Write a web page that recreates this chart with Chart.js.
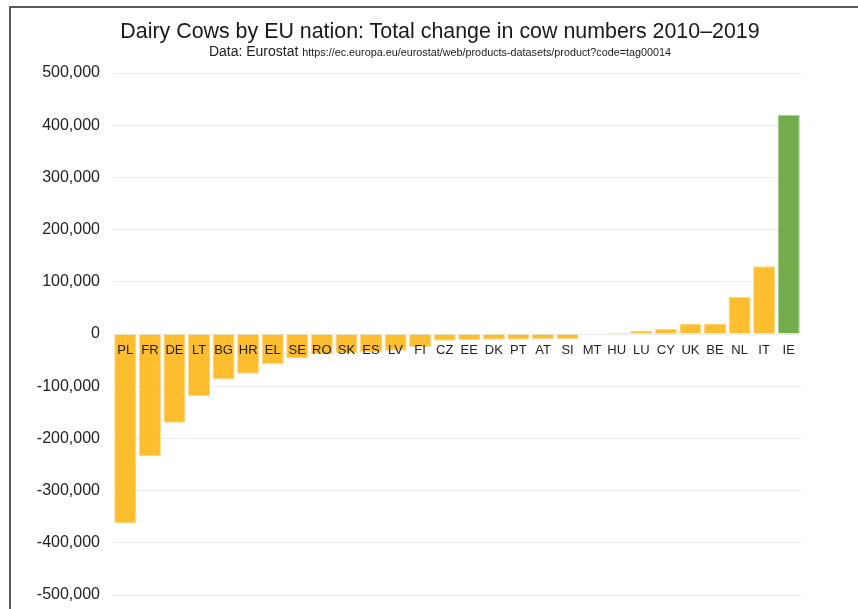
<!DOCTYPE html>
<html lang="en">
<head>
    <meta charset="UTF-8">
    <title>Dairy Cows by EU nation</title>
    <script src="https://cdn.jsdelivr.net/npm/chart.js"></script>
    <style>
        body { margin: 0; background: #fff; font-family: "Liberation Sans", Arial, sans-serif; }
        #wrap { position: relative; width: 858px; height: 609px; overflow: hidden; }
        #frame { position: absolute; left: 9px; top: 6px; right: -10px; bottom: -10px;
                 border-left: 2px solid #5a5a5a; border-top: 2px solid #5a5a5a; pointer-events: none; }
        .title { position: absolute; left: 0; width: 880px; text-align: center; color: #1a1a1a; white-space: nowrap; }
        #t1 { top: 19px; font-size: 21.4px; }
        #t2 { top: 43px; font-size: 14px; }
        #t2 span { font-size: 10.8px; }
    </style>
</head>
<body>
    <div id="wrap">
        <canvas id="chart" width="858" height="609"></canvas>
        <div class="title" id="t1">Dairy Cows by EU nation: Total change in cow numbers 2010–2019</div>
        <div class="title" id="t2">Data: Eurostat <span>https://ec.europa.eu/eurostat/web/products-datasets/product?code=tag00014</span></div>
        <div id="frame"></div>
    </div>
    <script>
        // countries, sorted by change
        const countries = ["PL", "FR", "DE", "LT", "BG", "HR", "EL", "SE", "RO", "SK", "ES", "LV", "FI", "CZ",
            "EE", "DK", "PT", "AT", "SI", "MT", "HU", "LU", "CY", "UK", "BE", "NL", "IT", "IE"];
        // change in dairy cow numbers 2010-2019
        const change = [-363000, -234000, -170000, -119000, -87000, -76000, -58000, -47000, -39000, -37000,
            -35000, -32000, -25000, -13000, -12000, -11000, -11000, -10000, -10000, -1000,
            3000, 6000, 10000, 20000, 20000, 71000, 130000, 420000];
        const yTicks = [-500000, -400000, -300000, -200000, -100000, 0, 100000, 200000, 300000, 400000, 500000];

        const yellow = "#fcbd2e";
        const green = "#72ac4b";
        const colors = countries.map(c => c === "IE" ? green : yellow);
        const edges = countries.map(c => c === "IE" ? "#a4cc88" : "#fdd88a");
        const fontFam = "'Liberation Sans', Arial, sans-serif";

        new Chart(document.getElementById("chart"), {
            type: "bar",
            data: {
                labels: countries,
                datasets: [{
                    data: change,
                    backgroundColor: colors,
                    borderColor: edges,
                    borderWidth: 1,
                    barPercentage: 0.9,
                    categoryPercentage: 1.0,
                }],
            },
            options: {
                responsive: false,
                animation: false,
                layout: { padding: { top: 73, right: 57, bottom: 14, left: 0 } },
                plugins: { legend: { display: false }, tooltip: { enabled: false } },
                scales: {
                    x: {
                        position: { y: 0 },
                        grid: { display: false, drawTicks: false },
                        border: { display: false },
                        ticks: { z: 1, color: "#222", padding: 9, maxRotation: 0, autoSkip: false,
                                 font: { family: fontFam, size: 13 } },
                    },
                    y: {
                        min: -500000,
                        max: 500000,
                        afterFit: s => { s.width = 113; s.paddingTop = 0; s.paddingBottom = 0; },
                        afterBuildTicks: s => { s.ticks = yTicks.map(v => ({ value: v })); },
                        grid: { color: "#ebebeb", drawTicks: false },
                        border: { display: false },
                        ticks: {
                            color: "#222", padding: 13,
                            font: { family: fontFam, size: 16 },
                            callback: v => v.toLocaleString("en-US"),
                        },
                    },
                },
            },
        });
    </script>
</body>
</html>
